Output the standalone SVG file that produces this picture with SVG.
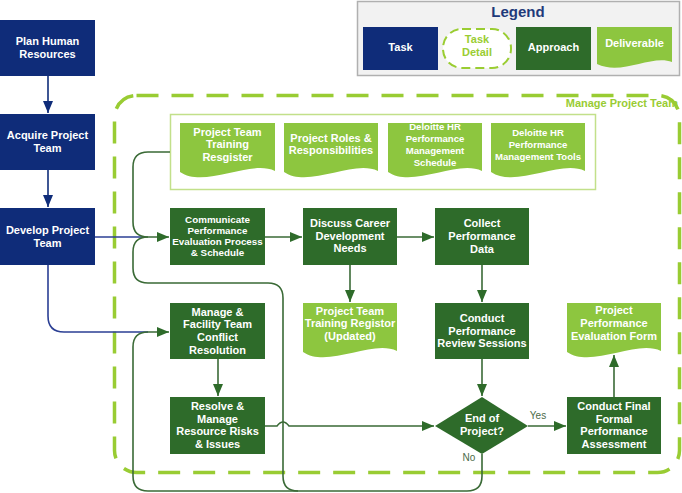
<svg xmlns="http://www.w3.org/2000/svg" width="682" height="493" viewBox="0 0 682 493">
<defs>
<style>
.task{fill:#0f2c79}
.appr{fill:#2e6b2a}
.deliv{fill:#8dc63f}
.t{font-family:"Liberation Sans",Arial,sans-serif;font-weight:bold;fill:#fff;text-anchor:middle}
.f11{font-size:11px}
.f10{font-size:9.8px}
.f9{font-size:9.6px}
.c{fill:none;stroke:#3a6a36;stroke-width:1.6}
.cb{fill:none;stroke:#2b3f94;stroke-width:1.6}
.lbl{font-family:"Liberation Sans",Arial,sans-serif;font-size:10px;fill:#4b6b48;text-anchor:middle}
</style>
<marker id="ag" markerWidth="12" markerHeight="10" refX="12" refY="5" orient="auto" markerUnits="userSpaceOnUse"><path d="M0,0 L12,5 L0,10 Z" fill="#2e6b2a"/></marker>
<marker id="an" markerWidth="12" markerHeight="10" refX="12" refY="5" orient="auto" markerUnits="userSpaceOnUse"><path d="M0,0 L12,5 L0,10 Z" fill="#0f2c79"/></marker>
</defs>
<rect width="682" height="493" fill="#fff"/>

<!-- Legend -->
<g id="legend">
<rect x="357.5" y="1.5" width="322" height="74" fill="#f2f2f2" stroke="#b0b0b0" stroke-width="1.5"/>
<text x="518" y="17" font-family="Liberation Sans,Arial,sans-serif" font-weight="bold" font-size="15" fill="#1f3a7a" text-anchor="middle">Legend</text>
<rect class="task" x="363" y="27" width="75" height="43"/>
<text class="t f11" x="400.5" y="51">Task</text>
<rect x="443" y="29" width="68" height="39" rx="19" ry="19" fill="#fff" stroke="#9acd32" stroke-width="2" stroke-dasharray="9 5"/>
<text class="t f11" x="477" y="43" style="fill:#9acd32">Task</text>
<text class="t f11" x="477" y="56" style="fill:#9acd32">Detail</text>
<rect class="appr" x="516" y="27" width="75" height="43"/>
<text class="t f11" x="553.5" y="51">Approach</text>
<path class="deliv" d="M597,27 H672 V62 C652,54 622,76 597,64 Z"/>
<text class="t f11" x="634.5" y="47">Deliverable</text>
</g>

<!-- Manage Project Team boundary -->
<g id="manage-project-team">
<rect x="114.5" y="95.5" width="565" height="377" rx="22" ry="22" fill="none" stroke="#99cc33" stroke-width="3.5" stroke-dasharray="22 13"/>
<text x="678" y="107" font-family="Liberation Sans,Arial,sans-serif" font-weight="bold" font-size="11" fill="#99cc33" text-anchor="end">Manage Project Team</text>
</g>

<!-- Deliverables container -->
<g id="deliverables-group">
<rect x="170.5" y="114.5" width="425" height="75" fill="#fff" stroke="#c2e08a" stroke-width="1.5"/>
</g>

<!-- Connectors -->
<g id="connectors">
<path class="c" d="M48,76 V113" style="stroke:#0f2c79" marker-end="url(#an)"/>
<path class="c" d="M48,170 V207" style="stroke:#0f2c79" marker-end="url(#an)"/>
<path class="cb" d="M95,237 H145"/>
<path class="cb" d="M48,265 V316 Q48,332 64,332 H148"/>
<path class="c" d="M170,152 H148 Q133,152 133,167 V222 Q133,237 148,237 H169" marker-end="url(#ag)"/>
<path class="c" d="M482,454 V476 Q482,491 467,491 H298 Q283,491 283,476 V298 Q283,283 268,283 H148 Q133,283 133,268 V252 Q133,237 148,237"/>
<path class="c" d="M298,491 H148 Q133,491 133,476 V347 Q133,332 148,332 H169" marker-end="url(#ag)"/>
<path class="c" d="M265,237 H302" marker-end="url(#ag)"/>
<path class="c" d="M397,237 H434" marker-end="url(#ag)"/>
<path class="c" d="M350,265 V302" marker-end="url(#ag)"/>
<path class="c" d="M482,265 V302" marker-end="url(#ag)"/>
<path class="c" d="M482,359 V396" marker-end="url(#ag)"/>
<path class="c" d="M218,359 V396" marker-end="url(#ag)"/>
<path class="c" d="M265,426 H277 Q283,418 289,426 H434" marker-end="url(#ag)"/>
<path class="c" d="M528,426 H566" marker-end="url(#ag)"/>
<path class="c" d="M614,397 V355" marker-end="url(#ag)"/>
<text class="lbl" x="538" y="419">Yes</text>
<text class="lbl" x="469" y="461">No</text>
</g>

<!-- Tasks -->
<g id="plan-human-resources">
<rect class="task" x="0" y="20" width="95" height="56"/>
<text class="t f11" x="47.5" y="45">Plan Human</text>
<text class="t f11" x="47.5" y="58">Resources</text>
</g>
<g id="acquire-project-team">
<rect class="task" x="0" y="114" width="95" height="56"/>
<text class="t f11" x="47.5" y="139">Acquire Project</text>
<text class="t f11" x="47.5" y="152">Team</text>
</g>
<g id="develop-project-team">
<rect class="task" x="0" y="208" width="95" height="57"/>
<text class="t f11" x="47.5" y="234">Develop Project</text>
<text class="t f11" x="47.5" y="247">Team</text>
</g>

<!-- Deliverables -->
<g id="project-team-training-register">
<path class="deliv" d="M180,123 H275 V171 C250,159 205,189 180,172 Z"/>
<text class="t f11" x="227.5" y="136">Project Team</text>
<text class="t f11" x="227.5" y="148">Training</text>
<text class="t f11" x="227.5" y="161">Resgister</text>
</g>
<g id="project-roles">
<path class="deliv" d="M284,123 H378 V171 C353,159 309,189 284,172 Z"/>
<text class="t f11" x="331" y="142">Project Roles &amp;</text>
<text class="t f11" x="331" y="154">Responsibilities</text>
</g>
<g id="deloitte-schedule">
<path class="deliv" d="M388,123 H482 V171 C457,159 413,189 388,172 Z"/>
<text class="t f9" x="435" y="130">Deloitte HR</text>
<text class="t f9" x="435" y="142">Performance</text>
<text class="t f9" x="435" y="154">Management</text>
<text class="t f9" x="435" y="166">Schedule</text>
</g>
<g id="deloitte-tools">
<path class="deliv" d="M491,123 H585 V171 C560,159 516,189 491,172 Z"/>
<text class="t f9" x="538" y="136">Deloitte HR</text>
<text class="t f9" x="538" y="148">Performance</text>
<text class="t f9" x="538" y="160">Management Tools</text>
</g>

<!-- Approaches -->
<g id="communicate">
<rect class="appr" x="170" y="208" width="95" height="57"/>
<text class="t f10" x="217.5" y="223">Communicate</text>
<text class="t f10" x="217.5" y="234">Performance</text>
<text class="t f10" x="217.5" y="245">Evaluation Process</text>
<text class="t f10" x="217.5" y="256">&amp; Schedule</text>
</g>
<g id="discuss-career">
<rect class="appr" x="303" y="208" width="94" height="57"/>
<text class="t f11" x="350" y="227">Discuss Career</text>
<text class="t f11" x="350" y="240">Development</text>
<text class="t f11" x="350" y="252">Needs</text>
</g>
<g id="collect-performance">
<rect class="appr" x="435" y="208" width="94" height="57"/>
<text class="t f11" x="482" y="227">Collect</text>
<text class="t f11" x="482" y="240">Performance</text>
<text class="t f11" x="482" y="253">Data</text>
</g>
<g id="manage-conflict">
<rect class="appr" x="170" y="303" width="95" height="56"/>
<text class="t f11" x="217.5" y="316">Manage &amp;</text>
<text class="t f11" x="217.5" y="328">Facility Team</text>
<text class="t f11" x="217.5" y="341">Conflict</text>
<text class="t f11" x="217.5" y="354">Resolution</text>
</g>
<g id="training-register-updated">
<path class="deliv" d="M303,303 H397 V351 C372,339 328,369 303,352 Z"/>
<text class="t f11" x="350" y="315">Project Team</text>
<text class="t f11" x="350" y="327">Training Registor</text>
<text class="t f11" x="350" y="340">(Updated)</text>
</g>
<g id="conduct-review">
<rect class="appr" x="435" y="303" width="94" height="56"/>
<text class="t f11" x="482" y="322">Conduct</text>
<text class="t f11" x="482" y="335">Performance</text>
<text class="t f11" x="482" y="347">Review Sessions</text>
</g>
<g id="evaluation-form">
<path class="deliv" d="M567,303 H661 V351 C636,339 592,369 567,352 Z"/>
<text class="t f11" x="614" y="314">Project</text>
<text class="t f11" x="614" y="327">Performance</text>
<text class="t f11" x="614" y="340">Evaluation Form</text>
</g>
<g id="resolve-risks">
<rect class="appr" x="170" y="397" width="95" height="57"/>
<text class="t f11" x="217.5" y="410">Resolve &amp;</text>
<text class="t f11" x="217.5" y="423">Manage</text>
<text class="t f11" x="217.5" y="435">Resource Risks</text>
<text class="t f11" x="217.5" y="448">&amp; Issues</text>
</g>
<g id="end-of-project">
<path class="appr" d="M482,397 L528,426 L482,454 L435,426 Z"/>
<text class="t f11" x="482" y="422">End of</text>
<text class="t f11" x="482" y="435">Project?</text>
</g>
<g id="conduct-final">
<rect class="appr" x="567" y="397" width="94" height="57"/>
<text class="t f11" x="614" y="410">Conduct Final</text>
<text class="t f11" x="614" y="423">Formal</text>
<text class="t f11" x="614" y="435">Performance</text>
<text class="t f11" x="614" y="448">Assessment</text>
</g>
</svg>
